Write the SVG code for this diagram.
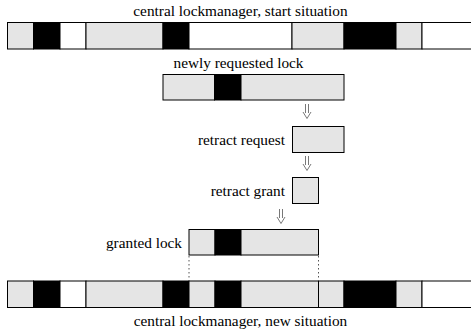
<svg xmlns="http://www.w3.org/2000/svg" width="471" height="331" viewBox="0 0 471 331">
<style>
text{font-family:"Liberation Serif","Times New Roman",serif;font-size:15.3px;fill:#000}
.g{fill:#e5e5e5;stroke:#000;stroke-width:1}
.b{fill:#000;stroke:#000;stroke-width:1}
.w{fill:#fff;stroke:#000;stroke-width:1}
.arr{fill:none;stroke:#555;stroke-width:0.8}
.dot{stroke:#555;stroke-width:1;stroke-dasharray:1.5,2.5}
</style>
<g id="start-bar">
<rect class="g" x="7.5" y="22.5" width="26" height="26.5"/>
<rect class="b" x="33.5" y="22.5" width="26.5" height="26.5"/>
<rect class="w" x="60" y="22.5" width="26" height="26.5"/>
<rect class="g" x="86" y="22.5" width="77" height="26.5"/>
<rect class="b" x="163" y="22.5" width="26" height="26.5"/>
<rect class="w" x="189" y="22.5" width="103" height="26.5"/>
<rect class="g" x="292" y="22.5" width="52" height="26.5"/>
<rect class="b" x="344" y="22.5" width="52" height="26.5"/>
<rect class="g" x="396" y="22.5" width="26" height="26.5"/>
<rect class="w" x="422" y="22.5" width="60" height="26.5"/>
<text x="240.5" y="16" text-anchor="middle">central lockmanager, start situation</text>
</g>
<g id="requested-lock">
<rect class="g" x="163" y="74.5" width="51.5" height="25.5"/>
<rect class="b" x="214.5" y="74.5" width="26.5" height="25.5"/>
<rect class="g" x="241" y="74.5" width="103" height="25.5"/>
<text x="238.5" y="68" text-anchor="middle">newly requested lock</text>
</g>
<g id="retract-request">
<rect class="g" x="292.5" y="126.5" width="51.5" height="26"/>
<text x="285" y="145" text-anchor="end">retract request</text>
</g>
<g id="retract-grant">
<rect class="g" x="292.5" y="177.5" width="26" height="26"/>
<text x="285" y="196" text-anchor="end">retract grant</text>
</g>
<g id="granted-lock">
<rect class="g" x="189" y="229.5" width="26" height="25.5"/>
<rect class="b" x="215" y="229.5" width="26" height="25.5"/>
<rect class="g" x="241" y="229.5" width="77.5" height="25.5"/>
<text x="182" y="248" text-anchor="end">granted lock</text>
</g>
<g id="new-bar">
<rect class="g" x="7.5" y="281" width="26" height="26.5"/>
<rect class="b" x="33.5" y="281" width="26.5" height="26.5"/>
<rect class="w" x="60" y="281" width="26" height="26.5"/>
<rect class="g" x="86" y="281" width="77" height="26.5"/>
<rect class="b" x="163" y="281" width="26" height="26.5"/>
<rect class="g" x="189" y="281" width="26" height="26.5"/>
<rect class="b" x="215" y="281" width="26" height="26.5"/>
<rect class="g" x="241" y="281" width="77.5" height="26.5"/>
<rect class="g" x="318.5" y="281" width="25.5" height="26.5"/>
<rect class="b" x="344" y="281" width="52" height="26.5"/>
<rect class="g" x="396" y="281" width="26" height="26.5"/>
<rect class="w" x="422" y="281" width="60" height="26.5"/>
<text x="240.5" y="326" text-anchor="middle">central lockmanager, new situation</text>
</g>
<g id="connectors">
<path class="arr" d="M305.5,104V113M308.5,104V113M303,112L307,118.5L311,112"/>
<path class="arr" d="M305.5,156V165M308.5,156V165M303,164L307,170.5L311,164"/>
<path class="arr" d="M279.5,209V218M282.5,209V218M277,217L281,223.5L285,217"/>
<line class="dot" x1="189" y1="256" x2="189" y2="281"/>
<line class="dot" x1="318.5" y1="256" x2="318.5" y2="281"/>
</g>
</svg>
